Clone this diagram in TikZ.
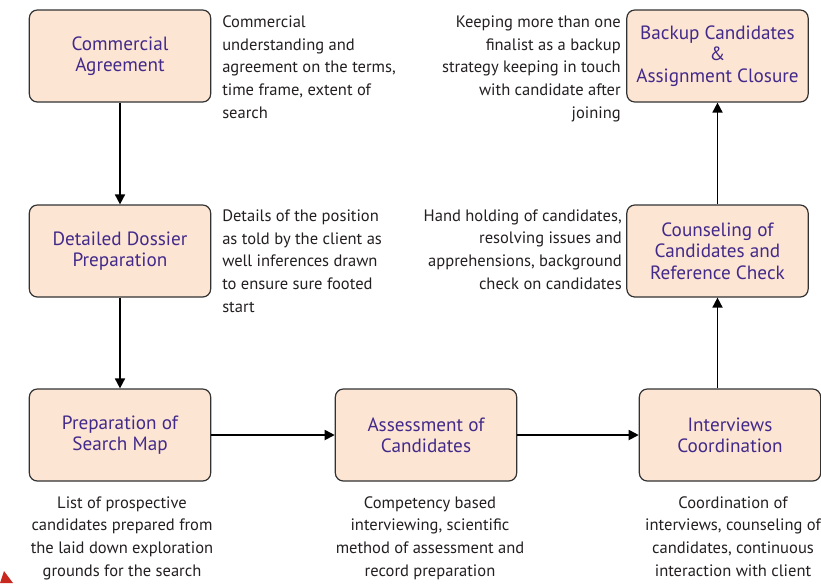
\documentclass[tikz,border=0pt]{standalone}
\usepackage{fontspec}
\setmainfont{PT Sans}
\usetikzlibrary{arrows.meta}
\definecolor{boxfill}{RGB}{253,229,212}
\definecolor{boxline}{RGB}{50,50,50}
\definecolor{labcol}{RGB}{66,42,138}
\definecolor{txtcol}{RGB}{35,31,32}
\definecolor{redmark}{RGB}{200,40,30}
\tikzset{
  x=0.75pt, y=-0.75pt,
  stepbox/.style={draw=boxline, line width=0.9pt, fill=boxfill, rounded corners=6pt,
    minimum width=136pt, minimum height=69pt, inner sep=0pt, align=center,
    text=labcol, font=\fontsize{14.4}{16}\selectfont},
  desc/.style={inner sep=0pt, text=txtcol, font=\fontsize{12.4}{17}\selectfont},
  flow/.style={line width=1.3pt, -{Triangle[length=7.5pt,width=7.5pt]}}
}
\begin{document}
\begin{tikzpicture}
\useasboundingbox (0,0) rectangle (821,583);
\fill[redmark] (0,583) -- (4,571) -- (13,583) -- cycle;
% boxes
\node[stepbox] (ca) at (120,56) {Commercial\\Agreement};
\node[stepbox] (dd) at (120,251) {Detailed Dossier\\Preparation};
\node[stepbox] (ps) at (120,435) {Preparation of\\Search Map};
\node[stepbox] (ac) at (426,435) {Assessment of\\Candidates};
\node[stepbox] (ic) at (730,435) {Interviews\\Coordination};
\node[stepbox] (cr) at (717.5,251) {Counseling of\\Candidates and\\Reference Check};
\node[stepbox] (bc) at (717.5,56) {Backup Candidates\\\&\\Assignment Closure};
% connectors
\draw[flow] (ca) -- (dd);
\draw[flow] (dd) -- (ps);
\draw[flow] (ps) -- (ac);
\draw[flow] (ac) -- (ic);
\draw[flow] (cr.south |- ic.north) -- (cr.south);
\draw[flow] (cr) -- (bc);
% descriptions (base anchor = last line baseline)
\node[desc, anchor=base west, align=left] (d1) at (222,118)
  {Commercial\\understanding and\\agreement on the terms,\\time frame, extent of\\search};
\node[desc, anchor=base west, align=left] (d2) at (222,312)
  {Details of the position\\as told by the client as\\well inferences drawn\\to ensure sure footed\\start};
\node[desc, anchor=base east, align=right] (d7) at (621,118)
  {Keeping more than one\\finalist as a backup\\strategy keeping in touch\\with candidate after\\joining};
\node[desc, anchor=base east, align=right] (d6) at (622,289)
  {Hand holding of candidates,\\resolving issues and\\apprehensions, background\\check on candidates};
\node[desc, anchor=base, align=center] (d3) at (122,576)
  {List of prospective\\candidates prepared from\\the laid down exploration\\grounds for the search};
\node[desc, anchor=base, align=center] (d4) at (430,576)
  {Competency based\\interviewing, scientific\\method of assessment and\\record preparation};
\node[desc, anchor=base, align=center] (d5) at (733,576)
  {Coordination of\\interviews, counseling of\\candidates, continuous\\interaction with client};
\end{tikzpicture}
\end{document}
